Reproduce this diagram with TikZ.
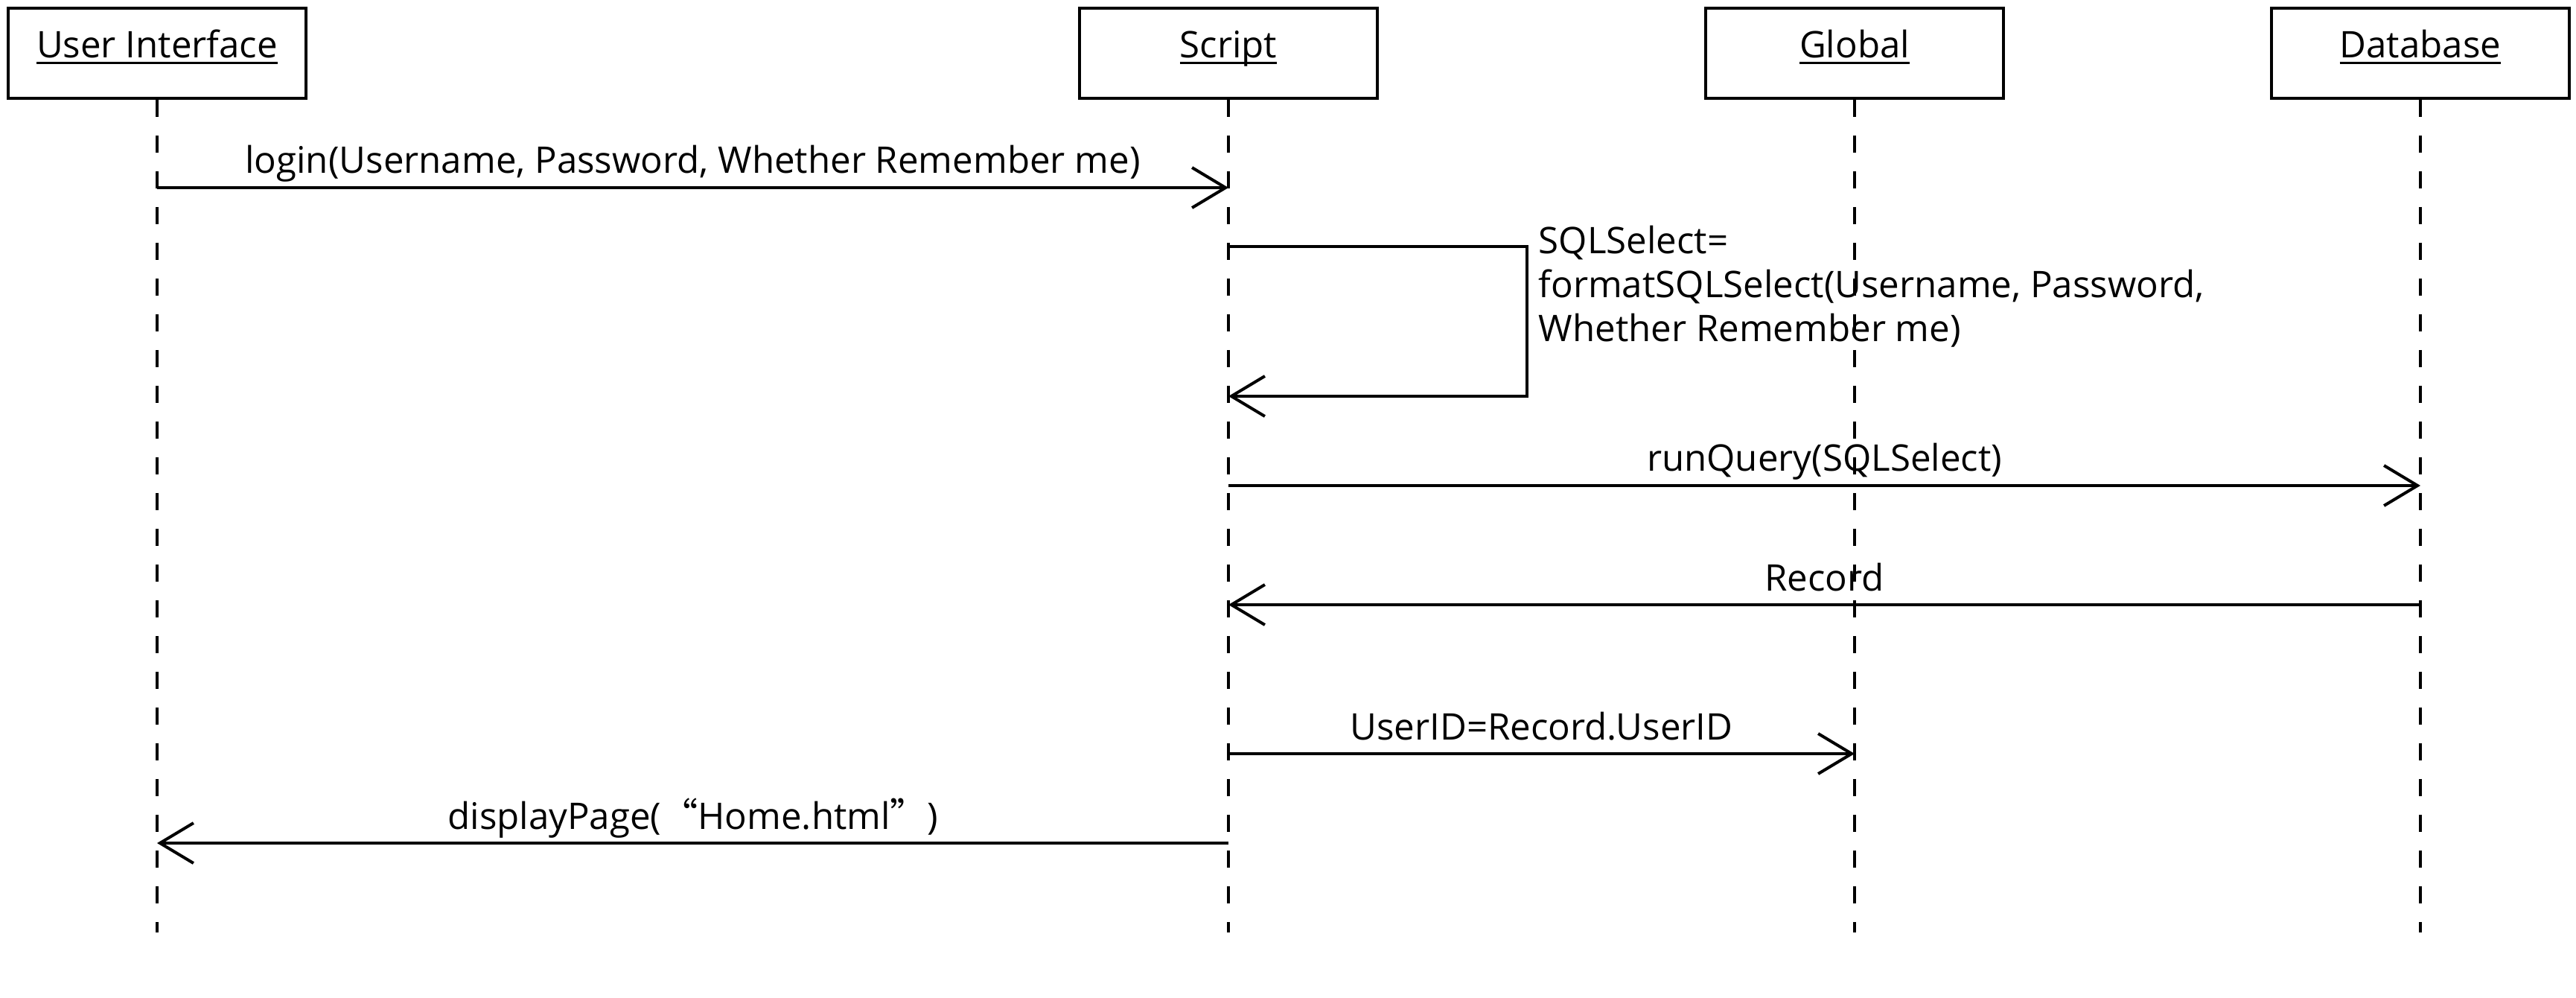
\documentclass[tikz,border=0pt]{standalone}
\usepackage{fontspec}
\setmainfont{Open Sans}
\newfontfamily\cjk{Noto Sans CJK SC}
\usetikzlibrary{arrows.meta}
\newcommand{\ulname}[1]{\sbox0{#1}\rlap{\usebox0}\rule[-2.4pt]{\wd0}{1.1pt}}
\tikzset{
  obj/.style={draw=black,line width=1.14pt,minimum width=4cm,minimum height=1.21cm,
    inner sep=0pt,text height=0.35cm,text depth=0.22cm},
  life/.style={draw=black,line width=1.1pt,dash pattern=on 0.23cm off 0.25cm},
  msg/.style={draw=black,line width=1.14pt,-{Straight Barb[length=0.45cm,width=0.54cm]}},
  lbl/.style={midway,anchor=base,yshift=0.19cm,inner sep=0pt},
}

\begin{document}
\begin{tikzpicture}[font=\fontsize{14pt}{16.8pt}\selectfont]
\useasboundingbox (0,0) rectangle (34.6,-13.4);
\node[obj] (ui) at (2.11,-0.715) {\ulname{User Interface}};
\node[obj] (script) at (16.5,-0.715) {\ulname{Script}};
\node[obj] (global) at (24.91,-0.715) {\ulname{Global}};
\node[obj] (db) at (32.51,-0.715) {\ulname{Database}};
\coordinate (uiend) at (2.11,-12.52);
\coordinate (scriptend) at (16.5,-12.52);
\coordinate (globalend) at (24.91,-12.52);
\coordinate (dbend) at (32.51,-12.52);
\draw[life] (ui.south) -- (uiend);
\draw[life] (script.south) -- (scriptend);
\draw[life] (global.south) -- (globalend);
\draw[life] (db.south) -- (dbend);
\coordinate (p1) at (2.11,-2.52);
\coordinate (p2) at (16.5,-2.52);
\coordinate (p3) at (16.5,-3.31);
\coordinate (p4) at (20.51,-3.31);
\coordinate (p5) at (20.51,-5.32);
\coordinate (p6) at (16.5,-5.32);
\coordinate (p7) at (16.5,-6.52);
\coordinate (p8) at (32.51,-6.52);
\coordinate (p9) at (32.51,-8.12);
\coordinate (p10) at (16.5,-8.12);
\coordinate (p11) at (16.5,-10.12);
\coordinate (p12) at (24.91,-10.12);
\coordinate (p13) at (16.5,-11.32);
\coordinate (p14) at (2.11,-11.32);
\draw[msg] (p1) -- node[lbl] {login(Username, Password, Whether Remember me)} (p2);
\draw[msg] (p3) -- (p4) -- (p5) -- (p6);
\node[anchor=north west,inner sep=0pt,align=left] (sel) at (20.66,-3.025)
  {SQLSelect=\\formatSQLSelect(Username, Password,\\Whether Remember me)};
\draw[msg] (p7) -- node[lbl] {runQuery(SQLSelect)} (p8);
\draw[msg] (p9) -- node[lbl] {Record} (p10);
\draw[msg] (p11) -- node[lbl] {UserID=Record.UserID} (p12);
\draw[msg] (p13) -- node[lbl] {displayPage({\cjk “}Home.html{\cjk ”})} (p14);
\end{tikzpicture}
\end{document}
